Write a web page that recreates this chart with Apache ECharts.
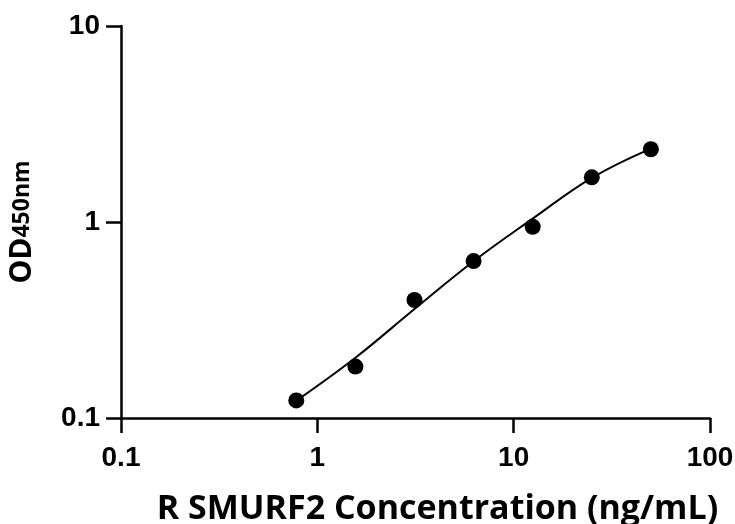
<!DOCTYPE html>
<html>
<head>
<meta charset="utf-8">
<script src="https://cdn.jsdelivr.net/npm/echarts@6/dist/echarts.min.js"></script>
<style>
  html, body { margin: 0; padding: 0; background: #fff; }
  #chart { width: 735px; height: 524px; }
</style>
</head>
<body>
<div id="chart"></div>
<script>
// standard concentrations (ng/mL)
const conc = [0.78125, 1.5625, 3.125, 6.25, 12.5, 25, 50];
// measured OD450
const od = [0.123, 0.183, 0.40, 0.632, 0.946, 1.69, 2.35];
// fitted curve at the same concentrations
const fitOd = [0.1225, 0.203, 0.36, 0.631, 1.04, 1.68, 2.37];

const xTicks = [0.1, 1, 10, 100];
const yTicks = [0.1, 1, 10];

const chart = echarts.init(document.getElementById('chart'));

const tickFont = { fontFamily: 'Liberation Sans', fontWeight: 'bold', fontSize: 28, color: '#000' };
const makeLine = () => ({ show: true, onZero: false, lineStyle: { color: '#000', width: 2.5 } });
const makeTick = () => ({ show: true, length: 15, lineStyle: { color: '#000', width: 2.5 } });
const fmt = v => String(+v.toPrecision(3));

const option = {
  animation: false,
  grid: { left: 121, right: 25, top: 26, bottom: 106, outerBoundsMode: 'none', containLabel: false },
  xAxis: {
    type: 'log',
    logBase: 10,
    min: xTicks[0],
    max: xTicks[xTicks.length - 1],
    axisLine: makeLine(),
    axisTick: makeTick(),
    minorTick: { show: false },
    splitLine: { show: false },
    axisLabel: Object.assign({ margin: 26, formatter: fmt }, tickFont),
    name: 'R SMURF2 Concentration (ng/mL)',
    nameLocation: 'middle',
    nameGap: 74,
    nameTextStyle: {
      fontFamily: 'Open Sans', fontWeight: 'bold', fontSize: 34, color: '#000',
      padding: [0, 0, 0, 44]
    }
  },
  yAxis: {
    type: 'log',
    logBase: 10,
    min: yTicks[0],
    max: yTicks[yTicks.length - 1],
    axisLine: makeLine(),
    axisTick: makeTick(),
    minorTick: { show: false },
    splitLine: { show: false },
    axisLabel: Object.assign({ margin: 21, formatter: fmt }, tickFont),
    name: '{a|OD}{b|450nm}',
    nameLocation: 'middle',
    nameGap: 84,
    nameTextStyle: {
      fontFamily: 'Open Sans', fontWeight: 'bold', fontSize: 30, color: '#000',
      rich: {
        a: { fontFamily: 'Open Sans', fontWeight: 'bold', fontSize: 30, color: '#000' },
        b: { fontFamily: 'Open Sans', fontWeight: 'bold', fontSize: 23, color: '#000' }
      }
    }
  },
  series: [
    {
      name: 'fit',
      type: 'line',
      data: conc.map((c, i) => [c, fitOd[i]]),
      smooth: 0.4,
      showSymbol: false,
      lineStyle: { color: '#000', width: 2 },
      z: 2
    },
    {
      name: 'OD',
      type: 'scatter',
      data: conc.map((c, i) => [c, od[i]]),
      symbol: 'circle',
      symbolSize: 16,
      itemStyle: { color: '#000', opacity: 1 },
      z: 3
    }
  ]
};

chart.setOption(option);
</script>
</body>
</html>
